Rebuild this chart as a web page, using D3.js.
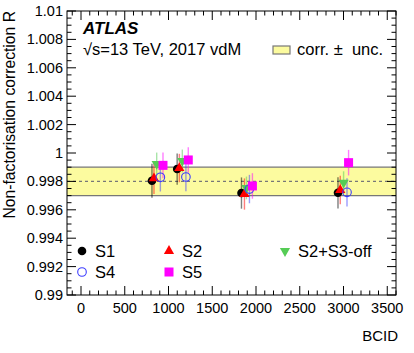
<!DOCTYPE html>
<html>
<head>
<meta charset="utf-8">
<script src="https://cdn.jsdelivr.net/npm/d3@7"></script>
<style>
  body { margin: 0; background: #fff; }
  text { font-family: "Liberation Sans", Arial, sans-serif; }
</style>
</head>
<body>
<div id="chart"></div>
<script>
// values
const seriesNames = ["S1", "S2", "S2+S3-off", "S4", "S5"];
const s1X = [811, 1099, 1834, 2937];
const s1Y = [0.99805, 0.99887, 0.99718, 0.99720];
const s1Err = [0.0012, 0.0011, 0.0011, 0.0011];
const s2X = [834, 1124, 1868, 2963];
const s2Y = [0.99822, 0.99894, 0.99711, 0.99739];
const s2Err = [0.0011, 0.0010, 0.0011, 0.0010];
const s23X = [865, 1158, 1891, 3001];
const s23Y = [0.99923, 0.99944, 0.99754, 0.99791];
const s23Err = [0.0008, 0.0008, 0.0008, 0.0008];
const s4X = [907, 1199, 1925, 3040];
const s4Y = [0.99829, 0.99831, 0.99746, 0.99723];
const s4Err = [0.0010, 0.0010, 0.0010, 0.0010];
const s5X = [937, 1226, 1959, 3058];
const s5Y = [0.99913, 0.99951, 0.99768, 0.99932];
const s5Err = [0.0009, 0.0009, 0.0009, 0.0009];
const corrValue = 0.998;
const corrUnc = 0.001;
const xTicks = [0, 500, 1000, 1500, 2000, 2500, 3000, 3500];
const yTicks = [0.99, 0.992, 0.994, 0.996, 0.998, 1, 1.002, 1.004, 1.006, 1.008, 1.01];

const width = 414, height = 353;
const margin = { top: 11, right: 18, bottom: 58, left: 67 };

const svg = d3.select("#chart").append("svg")
  .attr("width", width).attr("height", height);

const x = d3.scaleLinear().domain([-160, 3600]).range([margin.left, width - margin.right]);
const y = d3.scaleLinear().domain([0.99, 1.01]).range([height - margin.bottom, margin.top]);
const [x0, x1] = x.domain();

// uncertainty band
svg.append("rect")
  .attr("x", x(x0)).attr("width", x(x1) - x(x0))
  .attr("y", y(corrValue + corrUnc)).attr("height", y(corrValue - corrUnc) - y(corrValue + corrUnc))
  .attr("fill", "#fcfb9f");
[corrValue + corrUnc, corrValue - corrUnc].forEach(v => {
  svg.append("line")
    .attr("x1", x(x0)).attr("x2", x(x1))
    .attr("y1", y(v)).attr("y2", y(v))
    .attr("stroke", "#777").attr("stroke-width", 1.2);
});
svg.append("line")
  .attr("x1", x(x0)).attr("x2", x(x1))
  .attr("y1", y(corrValue)).attr("y2", y(corrValue))
  .attr("stroke", "#777").attr("stroke-width", 1.2)
  .attr("stroke-dasharray", "3,3");

// axes in ROOT style: ticks inward, mirrored
const frame = svg.append("g");
const xMinor = d3.range(-100, 3601, 100);
const yMinor = d3.range(0, 41).map(i => 0.99 + i * 0.0005);

xMinor.forEach(v => {
  const l = Math.abs(v % 500) < 1e-6 ? 9 : 4.5;
  frame.append("line").attr("x1", x(v)).attr("x2", x(v))
    .attr("y1", y(0.99)).attr("y2", y(0.99) - l).attr("stroke", "#000");
  frame.append("line").attr("x1", x(v)).attr("x2", x(v))
    .attr("y1", y(1.01)).attr("y2", y(1.01) + l).attr("stroke", "#000");
});
yMinor.forEach((v, i) => {
  const l = i % 4 === 0 ? 9 : 4.5;
  frame.append("line").attr("y1", y(v)).attr("y2", y(v))
    .attr("x1", x(x0)).attr("x2", x(x0) + l).attr("stroke", "#000");
  frame.append("line").attr("y1", y(v)).attr("y2", y(v))
    .attr("x1", x(x1)).attr("x2", x(x1) - l).attr("stroke", "#000");
});
frame.append("rect")
  .attr("x", x(x0)).attr("y", y(1.01))
  .attr("width", x(x1) - x(x0)).attr("height", y(0.99) - y(1.01))
  .attr("fill", "none").attr("stroke", "#000").attr("stroke-width", 1);

svg.selectAll(".xlab").data(xTicks).join("text")
  .attr("x", d => x(d)).attr("y", 313)
  .attr("text-anchor", "middle").attr("font-size", 14.5)
  .text(d => d);
svg.selectAll(".ylab").data(yTicks).join("text")
  .attr("x", 63).attr("y", d => y(d) + 5)
  .attr("text-anchor", "end").attr("font-size", 14.5)
  .text(d => d3.format("")(+d.toFixed(3)));

svg.append("text")
  .attr("x", width - 16).attr("y", 341)
  .attr("text-anchor", "end").attr("font-size", 15)
  .text("BCID");
svg.append("text")
  .attr("transform", `translate(15,${y(1.01)}) rotate(-90)`)
  .attr("text-anchor", "end").attr("font-size", 15.7)
  .text("Non-factorisation correction R");

// data series
const series = [
  { name: "S1", xs: s1X, ys: s1Y, es: s1Err, color: "#000", shape: "dot" },
  { name: "S2", xs: s2X, ys: s2Y, es: s2Err, color: "#ff0000", shape: "up" },
  { name: "S2+S3-off", xs: s23X, ys: s23Y, es: s23Err, color: "#55cc55", shape: "down" },
  { name: "S4", xs: s4X, ys: s4Y, es: s4Err, color: "#3c3cff", shape: "open" },
  { name: "S5", xs: s5X, ys: s5Y, es: s5Err, color: "#ff00ff", shape: "square" }
];

function drawMarker(g, shape, color, cx, cy) {
  if (shape === "dot") {
    g.append("circle").attr("cx", cx).attr("cy", cy).attr("r", 4.3).attr("fill", color);
  } else if (shape === "open") {
    g.append("circle").attr("cx", cx).attr("cy", cy).attr("r", 4.3)
      .attr("fill", "none").attr("stroke", color).attr("stroke-width", 1.1);
  } else if (shape === "square") {
    g.append("rect").attr("x", cx - 4.5).attr("y", cy - 4.5).attr("width", 9).attr("height", 9).attr("fill", color);
  } else if (shape === "up") {
    g.append("path").attr("d", d3.symbol(d3.symbolTriangle, 45)()).attr("transform", `translate(${cx},${cy})`).attr("fill", color);
  } else if (shape === "down") {
    g.append("path").attr("d", d3.symbol(d3.symbolTriangle, 45)()).attr("transform", `translate(${cx},${cy}) rotate(180)`).attr("fill", color);
  }
}

const pts = svg.append("g");
series.forEach(s => {
  s.xs.forEach((bx, i) => {
    pts.append("line")
      .attr("x1", x(bx)).attr("x2", x(bx))
      .attr("y1", y(s.ys[i] - s.es[i])).attr("y2", y(s.ys[i] + s.es[i]))
      .attr("stroke", s.color).attr("stroke-width", 1.4).attr("opacity", 0.5);
  });
});
series.forEach(s => {
  s.xs.forEach((bx, i) => drawMarker(pts, s.shape, s.color, x(bx), y(s.ys[i])));
});

// legend
const legendPos = [[82, 251], [169, 251], [285, 251], [82, 272], [169, 272]];
series.forEach((s, i) => {
  const [lx, ly] = legendPos[i];
  drawMarker(svg, s.shape, s.color, lx, ly);
  svg.append("text").attr("x", lx + 13).attr("y", ly + 6)
    .attr("font-size", 16.5).text(s.name);
});

// labels
svg.append("text").attr("x", 83).attr("y", 33.5)
  .attr("font-size", 17).attr("font-weight", "bold").attr("font-style", "italic")
  .text("ATLAS");
svg.append("text").attr("x", 83).attr("y", 54.5)
  .attr("font-size", 16.5).text("\u221As=13 TeV, 2017 vdM");
svg.append("rect").attr("x", 273).attr("y", 46).attr("width", 17).attr("height", 8)
  .attr("fill", "#fcfb9f").attr("stroke", "#777").attr("stroke-width", 1.2);
svg.append("text").attr("x", 297).attr("y", 54.5)
  .attr("font-size", 16.5).attr("xml:space", "preserve").text("corr. \u00B1  unc.");
</script>
</body>
</html>
